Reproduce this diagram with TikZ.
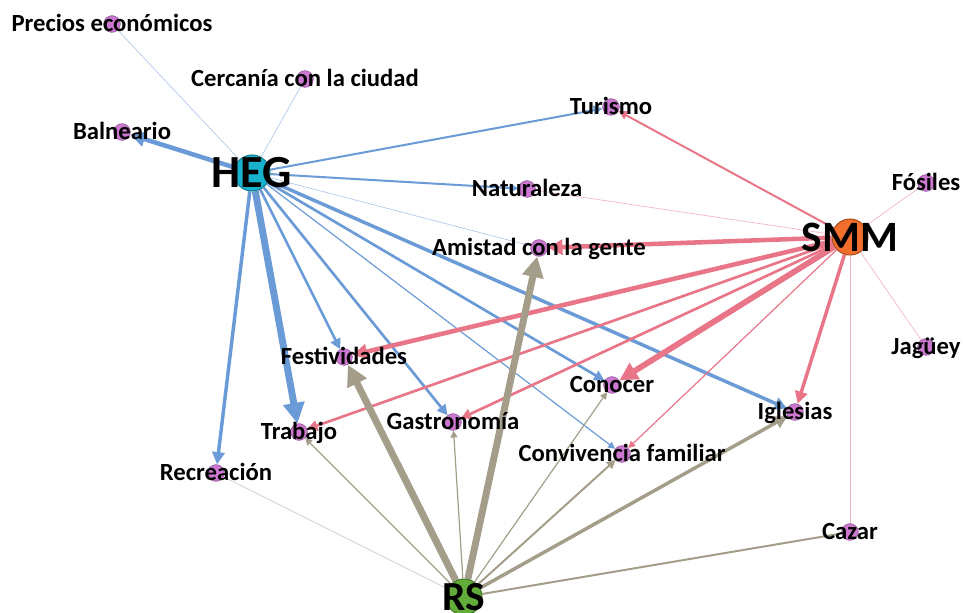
\documentclass[tikz,border=0pt]{standalone}
\usepackage{fontspec}
\setmainfont{Carlito}
\usetikzlibrary{positioning}
\usetikzlibrary{arrows.meta, backgrounds}

\definecolor{hegblue}{RGB}{106,155,214}
\definecolor{smmred}{RGB}{232,118,136}
\definecolor{rsgray}{RGB}{163,157,137}
\definecolor{hegfill}{RGB}{23,178,206}
\definecolor{smmfill}{RGB}{242,110,44}
\definecolor{rsfill}{RGB}{98,172,58}
\definecolor{dotfill}{RGB}{204,120,208}
\definecolor{dotline}{RGB}{150,90,160}

\tikzset{
    dot/.style={circle, fill=dotfill, draw=dotline, line width=0.5pt, minimum size=12.5pt, inner sep=0pt},
    hub/.style={circle, fill=#1, draw=#1!70!black, line width=0.8pt, minimum size=27pt, inner sep=0pt},
    lbl/.style={font=\bfseries\fontsize{18.5}{21}\selectfont, text height=11.9pt, text depth=0pt, inner sep=0pt},
    hublbl/.style={font=\bfseries\fontsize{#1}{#1}\selectfont, inner sep=0pt},
    hegln/.style={draw=hegblue, ->},
    smmln/.style={draw=smmred, ->},
    rsln/.style={draw=rsgray, ->},
    faint/.style={line width=0.5pt, draw opacity=0.55, -},
    w1/.style={line width=0.9pt},
    w2/.style={line width=1.5pt},
    w3/.style={line width=2pt},
    w4/.style={line width=2.6pt},
    w5/.style={line width=3.4pt},
    w6/.style={line width=4.4pt},
    w7/.style={line width=5.2pt}
}

\begin{document}
\begin{tikzpicture}[x=0.75pt, y=-0.75pt, >={Triangle[length=3pt 2.4, width=3pt 2.4]}]
    \useasboundingbox (0,0) rectangle (963,612);

    % actores
    \node[hub=hegfill, label={[hublbl=34.5]center:HEG}] (HEG) at (252,173) {};
    \node[hub=smmfill, label={[hublbl=32.5]center:SMM}] (SMM) at (850,237) {};
    \node[hub=rsfill, label={[hublbl=31]center:RS}] (RS) at (464,597) {};

    % motivos
    \node[dot, label={[lbl]center:Precios económicos}] (Precios) at (112,24) {};
    \node[dot, label={[lbl]center:Cercanía con la ciudad}] (Cercania) at (305,79) {};
    \node[dot, label={[lbl]center:Balneario}] (Balneario) at (122,132) {};
    \node[dot, label={[lbl]center:Turismo}] (Turismo) at (611,107) {};
    \node[dot, label={[lbl]center:Naturaleza}] (Naturaleza) at (527,189) {};
    \node[dot, label={[lbl]center:Amistad con la gente}] (Amistad) at (539,248) {};
    \node[dot, label={[lbl]center:Fósiles}] (Fosiles) at (926,183) {};
    \node[dot, label={[lbl]center:Jagüey}] (Jaguey) at (926,347) {};
    \node[dot, label={[lbl]center:Festividades}] (Festividades) at (344,357) {};
    \node[dot, label={[lbl]center:Conocer}] (Conocer) at (612,385) {};
    \node[dot, label={[lbl]center:Iglesias}] (Iglesias) at (795,412) {};
    \node[dot, label={[lbl]center:Trabajo}] (Trabajo) at (299,432) {};
    \node[dot, label={[lbl]center:Gastronomía}] (Gastronomia) at (453,422) {};
    \node[dot, label={[lbl]center:Convivencia familiar}] (Convivencia) at (622,454) {};
    \node[dot, label={[lbl]center:Recreación}] (Recreacion) at (216,473) {};
    \node[dot, label={[lbl]center:Cazar}] (Cazar) at (850,532) {};

    \begin{scope}[on background layer]
        % HEG
        \draw[hegln, faint] (HEG) -- (Precios);
        \draw[hegln, faint] (HEG) -- (Cercania);
        \draw[hegln, w5] (HEG) -- (Balneario);
        \draw[hegln, w2] (HEG) -- (Turismo);
        \draw[hegln, w2] (HEG) -- (Naturaleza);
        \draw[hegln, faint] (HEG) -- (Amistad);
        \draw[hegln, w4] (HEG) -- (Iglesias);
        \draw[hegln, w3] (HEG) -- (Conocer);
        \draw[hegln, w1] (HEG) -- (Convivencia);
        \draw[hegln, w3] (HEG) -- (Gastronomia);
        \draw[hegln, w3] (HEG) -- (Festividades);
        \draw[hegln, w7] (HEG) -- (Trabajo);
        \draw[hegln, w4] (HEG) -- (Recreacion);
        % SMM
        \draw[smmln, w2] (SMM) -- (Turismo);
        \draw[smmln, faint] (SMM) -- (Naturaleza);
        \draw[smmln, w5] (SMM) -- (Amistad);
        \draw[smmln, w5] (SMM) -- (Festividades);
        \draw[smmln, w3] (SMM) -- (Trabajo);
        \draw[smmln, w3] (SMM) -- (Gastronomia);
        \draw[smmln, w6] (SMM) -- (Conocer);
        \draw[smmln, w1] (SMM) -- (Convivencia);
        \draw[smmln, w4] (SMM) -- (Iglesias);
        \draw[smmln, faint] (SMM) -- (Fosiles);
        \draw[smmln, faint] (SMM) -- (Jaguey);
        \draw[smmln, faint] (SMM) -- (Cazar);
        % RS
        \draw[rsln, faint] (RS) -- (Recreacion);
        \draw[rsln, w1] (RS) -- (Trabajo);
        \draw[rsln, w7] (RS) -- (Festividades);
        \draw[rsln, w1] (RS) -- (Gastronomia);
        \draw[rsln, w7] (RS) -- (Amistad);
        \draw[rsln, w1] (RS) -- (Conocer);
        \draw[rsln, w2] (RS) -- (Convivencia);
        \draw[rsln, w4] (RS) -- (Iglesias);
        \draw[rsln, w2, -] (RS) -- (Cazar);
    \end{scope}
\end{tikzpicture}
\end{document}
